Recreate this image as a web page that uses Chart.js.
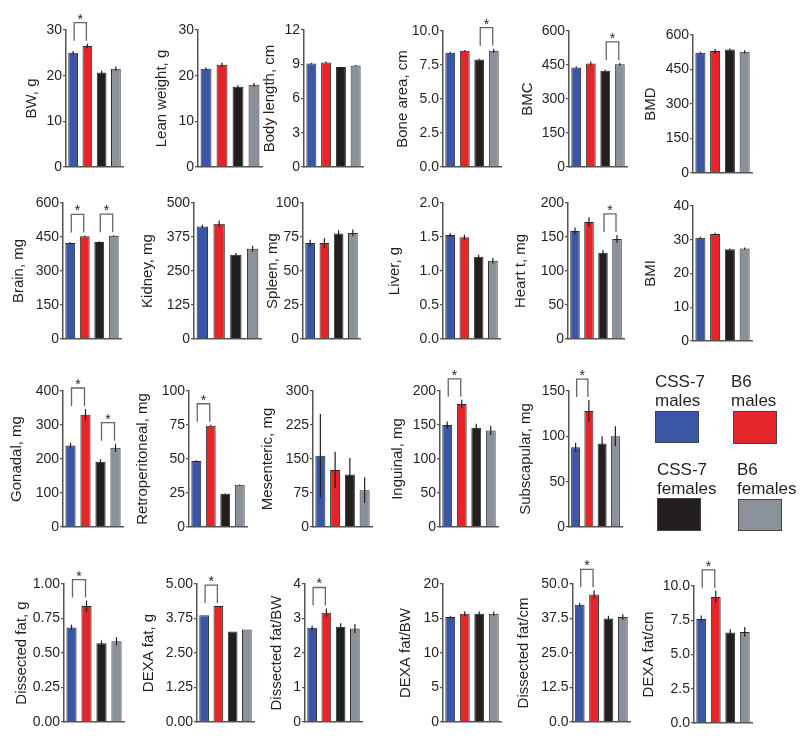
<!DOCTYPE html>
<html>
<head>
<meta charset="utf-8">
<script src="https://cdn.jsdelivr.net/npm/chart.js@4.4.1/dist/chart.umd.min.js"></script>
<style>
  html, body { margin: 0; padding: 0; background: #fff; }
  body { width: 800px; height: 736px; position: relative; overflow: hidden;
         font-family: "Liberation Sans", Arial, sans-serif; }
  canvas { position: absolute; }
  .leg-text { position: absolute; font-size: 17px; line-height: 19px; color: #231f20; }
  .leg-box { position: absolute; border: 1.5px solid #444; box-sizing: border-box; }
</style>
</head>
<body>
<script>
// ---------- data ----------
const groups = ['CSS-7 males', 'B6 males', 'CSS-7 females', 'B6 females'];
const groupColors = ['#3b56a5', '#e6252b', '#231f20', '#8b9198'];

const panelLabels = [
  'BW, g', 'Lean weight, g', 'Body length, cm', 'Bone area, cm', 'BMC', 'BMD',
  'Brain, mg', 'Kidney, mg', 'Spleen, mg', 'Liver, g', 'Heart t, mg', 'BMI',
  'Gonadal, mg', 'Retroperitoneal, mg', 'Mesenteric, mg', 'Inguinal, mg', 'Subscapular, mg',
  'Dissected fat, g', 'DEXA fat, g', 'Dissected fat/BW', 'DEXA fat/BW', 'Dissected fat/cm', 'DEXA fat/cm'
];

const means = [
  [25.0, 26.5, 20.7, 21.5],
  [21.5, 22.4, 17.6, 18.0],
  [9.06, 9.15, 8.76, 8.88],
  [8.4, 8.55, 7.9, 8.55],
  [439, 457, 425, 453],
  [523, 530, 537, 527],
  [423, 453, 428, 455],
  [414, 424, 310, 332],
  [70.5, 70.5, 77.5, 78],
  [1.53, 1.495, 1.21, 1.15],
  [159, 172, 127, 147],
  [30.6, 31.7, 27.2, 27.4],
  [240, 330, 192, 233],
  [48.5, 74.5, 24.5, 31],
  [157, 126, 116, 81],
  [150, 181, 146, 142],
  [88, 128, 92, 100],
  [0.685, 0.84, 0.57, 0.585],
  [3.87, 4.2, 3.28, 3.35],
  [2.73, 3.17, 2.76, 2.71],
  [15.2, 15.7, 15.7, 15.7],
  [42.5, 46.2, 37.5, 38],
  [7.6, 9.2, 6.6, 6.65]
];

const errors = [
  [0.4, 0.5, 0.4, 0.5],
  [0.3, 0.5, 0.3, 0.4],
  [0.05, 0.08, 0.03, 0.06],
  [0.08, 0.06, 0.06, 0.15],
  [4, 8, 5, 6],
  [4, 9, 4, 7],
  [4, 4, 3, 3],
  [6, 12, 6, 11],
  [2.5, 3.5, 2.5, 2.5],
  [0.03, 0.04, 0.03, 0.04],
  [5, 7, 4, 6],
  [0.3, 0.4, 0.2, 0.3],
  [7, 17, 7, 12],
  [0.5, 0.7, 0.3, 0.3],
  [92, 40, 36, 28],
  [5, 6, 6, 7],
  [5, 12, 8, 11],
  [0.02, 0.04, 0.02, 0.03],
  [0, 0, 0, 0],
  [0.07, 0.12, 0.1, 0.13],
  [0.2, 0.35, 0.3, 0.3],
  [0.7, 1.5, 1, 1],
  [0.25, 0.45, 0.25, 0.35]
];

const axisMax = [30, 30, 12, 10, 600, 600, 600, 500, 100, 2, 200, 40, 400, 100, 300, 200, 150, 1, 5, 4, 20, 50, 10];
const axisStep = [10, 10, 3, 2.5, 150, 150, 150, 125, 25, 0.5, 50, 10, 100, 25, 75, 50, 50, 0.25, 1.25, 1, 5, 12.5, 2.5];
const tickDecimals = [0, 0, 0, 1, 0, 0, 0, 0, 0, 1, 0, 0, 0, 0, 0, 0, 0, 2, 2, 0, 0, 1, 1];

// significant pairs (indices into groups)
const sigPairs = [
  [[0, 1]], [], [], [[2, 3]], [[2, 3]], [],
  [[0, 1], [2, 3]], [], [], [], [[2, 3]], [],
  [[0, 1], [2, 3]], [[0, 1]], [], [[0, 1]], [[0, 1]],
  [[0, 1]], [[0, 1]], [[0, 1]], [], [[0, 1]], [[0, 1]]
];

// ---------- layout (axis x, plot top, plot bottom, axis end) ----------
const layout = [
  [66, 30, 167, 123], [198, 30, 167, 262], [304, 30, 167, 363], [443, 31, 167, 501], [569, 31, 167, 627], [693, 35, 173, 752],
  [63, 203, 339, 121], [194, 203, 339, 261], [303, 203, 339, 360], [443, 203, 339, 500], [568, 203, 339, 624], [693, 206, 341, 752],
  [63, 391, 527, 123], [189, 391, 527, 247], [313, 391, 527, 372], [440, 391, 527, 498], [569, 391, 527, 622],
  [64, 584, 722, 124], [197, 584, 722, 254], [305, 584, 722, 362], [443, 584, 722, 501], [572, 584, 722, 627], [694, 586, 723, 752]
];
// distance from axis line to the centre of the y title
const titleGap = [34, 36, 34, 40, 41, 42, 44, 46, 30, 48, 47, 42, 46, 46, 45, 42, 43, 42, 48, 28, 37, 51, 45];

const legendSpots = [
  [655, 372, 655, 411, 44, 32],
  [731, 372, 733, 411, 44, 33],
  [657, 460, 657, 498, 44, 33],
  [737, 460, 738, 499, 44, 32]
];

const FONT = '"Liberation Sans", Arial, sans-serif';
const INK = '#231f20';
const AXIS = '#555';
const CW = 170, PT = 30, PB = 12, TITLE_LH = 18;

// error bars + significance brackets
const overlay = {
  id: 'overlay',
  afterDatasetsDraw(chart, args, opts) {
    const i = opts.panel;
    const ctx = chart.ctx;
    const y = chart.scales.y;
    const bars = chart.getDatasetMeta(0).data;
    ctx.save();
    ctx.strokeStyle = INK;
    ctx.lineWidth = 1.2;
    errors[i].forEach((e, k) => {
      if (!e) return;
      const v = means[i][k];
      ctx.beginPath();
      ctx.moveTo(bars[k].x, y.getPixelForValue(v - e));
      ctx.lineTo(bars[k].x, y.getPixelForValue(v + e));
      ctx.stroke();
    });
    sigPairs[i].forEach(([a, b]) => {
      const topA = y.getPixelForValue(means[i][a] + errors[i][a]);
      const topB = y.getPixelForValue(means[i][b] + errors[i][b]);
      const bottom = Math.min(topA, topB) - 3;
      const top = bottom - 18;
      const xa = bars[a].x + 1, xb = bars[b].x - 1;
      ctx.strokeStyle = '#666';
      ctx.lineWidth = 1.3;
      ctx.beginPath();
      ctx.moveTo(xa, bottom);
      ctx.lineTo(xa, top);
      ctx.lineTo(xb, top);
      ctx.lineTo(xb, bottom);
      ctx.stroke();
      ctx.fillStyle = INK;
      ctx.font = '14px ' + FONT;
      ctx.textAlign = 'center';
      ctx.textBaseline = 'alphabetic';
      ctx.fillText('*', (xa + xb) / 2, top + 1);
    });
    ctx.restore();
  }
};

function makePanel(i) {
  const [ax, top, bottom, right] = layout[i];
  const plotH = bottom - top;
  const plotW = right - ax;
  const canvas = document.createElement('canvas');
  canvas.width = CW;
  canvas.height = PT + plotH + PB;
  document.body.appendChild(canvas);

  const chart = new Chart(canvas, {
    type: 'bar',
    data: {
      labels: groups,
      datasets: [{
        data: means[i],
        backgroundColor: groupColors,
        borderColor: '#2a2a2a',
        borderWidth: 1,
        barPercentage: 0.68,
        categoryPercentage: 1
      }]
    },
    options: {
      responsive: false,
      animation: false,
      layout: { padding: { top: PT, bottom: PB, left: 0, right: 0 } },
      plugins: { legend: { display: false }, tooltip: { enabled: false }, overlay: { panel: i } },
      scales: {
        x: {
          ticks: { display: false },
          grid: { display: true, drawOnChartArea: false, drawTicks: false },
          border: { color: AXIS, width: 1.5 }
        },
        y: {
          min: 0,
          max: axisMax[i],
          ticks: {
            stepSize: axisStep[i],
            color: INK,
            padding: 1,
            font: { family: FONT, size: 14 },
            callback: v => Number(v).toFixed(tickDecimals[i])
          },
          grid: { drawOnChartArea: false, drawTicks: true, tickLength: 3, color: AXIS, lineWidth: 1.3 },
          border: { color: AXIS, width: 1.5 },
          title: {
            display: true,
            text: panelLabels[i],
            color: INK,
            font: { family: FONT, size: 15, lineHeight: 1.2 },
            padding: { top: 0, bottom: 4 }
          }
        }
      }
    },
    plugins: [overlay]
  });

  // pass 2: move the title to its gap from the axis
  const d1 = chart.scales.y.width - TITLE_LH / 2;
  chart.options.scales.y.title.padding = { top: 0, bottom: 4 + titleGap[i] - d1 };
  chart.update();

  // pass 3: fix the plot box width/height, then place the canvas
  const ca = chart.chartArea;
  chart.options.layout.padding = {
    top: PT,
    left: 0,
    right: CW - ca.left - plotW,
    bottom: PB + (ca.bottom - ca.top) - plotH
  };
  chart.update();
  const ca2 = chart.chartArea;
  canvas.style.left = (ax - ca2.left) + 'px';
  canvas.style.top = (top - ca2.top) + 'px';
}

panelLabels.forEach((_, i) => makePanel(i));

// legend
groups.forEach((g, k) => {
  const [tx, ty, bx, by, bw, bh] = legendSpots[k];
  const cut = g.lastIndexOf(' ');
  const t = document.createElement('div');
  t.className = 'leg-text';
  t.style.left = tx + 'px';
  t.style.top = ty + 'px';
  t.innerHTML = g.slice(0, cut) + '<br>' + g.slice(cut + 1);
  document.body.appendChild(t);
  const b = document.createElement('div');
  b.className = 'leg-box';
  b.style.left = bx + 'px';
  b.style.top = by + 'px';
  b.style.width = bw + 'px';
  b.style.height = bh + 'px';
  b.style.background = groupColors[k];
  document.body.appendChild(b);
});
</script>
</body>
</html>
